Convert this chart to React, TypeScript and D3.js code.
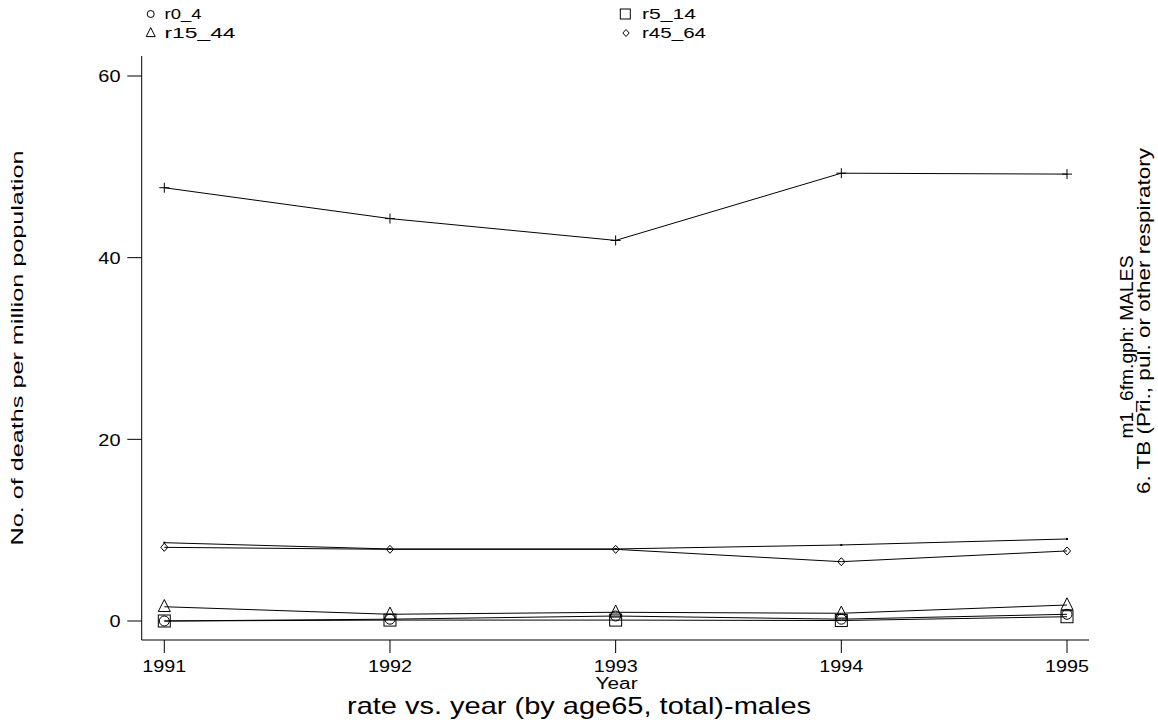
import React from "react";
import * as d3 from "d3";

const years = [1991, 1992, 1993, 1994, 1995];
const r0_4 = [0, 0.2, 0.55, 0.2, 0.74];
const r5_14 = [0, 0.1, 0.1, 0.05, 0.47];
const r15_44 = [1.57, 0.74, 0.96, 0.85, 1.76];
const r45_64 = [8.11, 7.89, 7.89, 6.53, 7.71];
const r65plus = [47.7, 44.3, 41.9, 49.3, 49.2];
const total = [8.62, 7.93, 7.93, 8.37, 9.03];
const yTicks = [0, 20, 40, 60];
const legendLabels = ["r0_4", "r5_14", "r15_44", "r45_64"];

const FONT = "'Liberation Sans', Arial, Helvetica, sans-serif";

type Marker = "circle" | "square" | "triangle" | "diamond" | "plus" | "dot";

function markerEl(kind: Marker, cx: number, cy: number, s: number, key: string) {
  const common = { fill: "none", stroke: "#000", strokeWidth: 1 };
  switch (kind) {
    case "circle":
      return <circle key={key} cx={cx} cy={cy} r={s / 2} {...common} />;
    case "square":
      return <rect key={key} x={cx - s / 2} y={cy - s / 2} width={s} height={s} {...common} />;
    case "triangle": {
      const h = s;
      return (
        <path
          key={key}
          d={`M${cx},${cy - h * 0.6}L${cx + s / 2},${cy + h * 0.4}L${cx - s / 2},${cy + h * 0.4}Z`}
          {...common}
        />
      );
    }
    case "diamond":
      return (
        <path
          key={key}
          d={`M${cx},${cy - s / 2}L${cx + s * 0.45},${cy}L${cx},${cy + s / 2}L${cx - s * 0.45},${cy}Z`}
          {...common}
        />
      );
    case "plus":
      return (
        <path key={key} d={`M${cx - s / 2},${cy}H${cx + s / 2}M${cx},${cy - s / 2}V${cy + s / 2}`} {...common} />
      );
    case "dot":
      return <rect key={key} x={cx - 1} y={cy - 1} width={2} height={2} fill="#000" />;
  }
}

export default function App() {
  const W = 1158;
  const H = 726;
  const x = d3.scaleLinear().domain([1991, 1995]).range([164.3, 1067]);
  const y = d3.scaleLinear().domain([0, 60]).range([621, 76]);
  const axisLeft = 141.7;
  const axisBottom = 640;
  const axisTop = 56;
  const axisRight = 1089;

  const line = d3
    .line<number>()
    .x((_, i) => x(years[i]))
    .y((d) => y(d));

  const series: { data: number[]; marker: Marker; size: number }[] = [
    { data: r65plus, marker: "plus", size: 10 },
    { data: total, marker: "dot", size: 2 },
    { data: r45_64, marker: "diamond", size: 8 },
    { data: r15_44, marker: "triangle", size: 12 },
    { data: r5_14, marker: "square", size: 12 },
    { data: r0_4, marker: "circle", size: 10 },
  ];

  const legend: { label: string; marker: Marker; size: number; mx: number; tx: number; my: number; ty: number; tl: number }[] = [
    { label: legendLabels[0], marker: "circle", size: 7, mx: 150.7, tx: 164.5, my: 14, ty: 19.3, tl: 37 },
    { label: legendLabels[1], marker: "square", size: 10, mx: 625.3, tx: 642, my: 14, ty: 19.3, tl: 54 },
    { label: legendLabels[2], marker: "triangle", size: 9, mx: 150.7, tx: 164.5, my: 33, ty: 38.3, tl: 71 },
    { label: legendLabels[3], marker: "diamond", size: 7, mx: 626, tx: 642, my: 33, ty: 38.3, tl: 64 },
  ];

  return (
    <svg width={W} height={H} style={{ position: "absolute", left: 0, top: 0, background: "#fff" }} fontFamily={FONT}>
      <rect x={0} y={0} width={W} height={H} fill="#fff" />

      {/* legend */}
      {legend.map((l, i) => (
        <g key={"lg" + i}>
          {markerEl(l.marker, l.mx, l.my, l.size, "lm" + i)}
          <text x={l.tx} y={l.ty} fontSize={14} textLength={l.tl} lengthAdjust="spacingAndGlyphs">
            {l.label}
          </text>
        </g>
      ))}

      {/* axes */}
      <line x1={axisLeft} x2={axisLeft} y1={axisTop} y2={axisBottom} stroke="#000" strokeWidth={1} />
      <line x1={axisLeft} x2={axisRight} y1={axisBottom} y2={axisBottom} stroke="#000" strokeWidth={1} />
      {yTicks.map((t) => (
        <g key={"yt" + t}>
          <line x1={127.3} x2={axisLeft} y1={y(t)} y2={y(t)} stroke="#000" strokeWidth={1} />
          <text
            x={120.5}
            y={y(t) + 6.2}
            fontSize={17}
            textAnchor="end"
            textLength={String(t).length * 11.1}
            lengthAdjust="spacingAndGlyphs"
          >
            {t}
          </text>
        </g>
      ))}
      {years.map((yr) => (
        <g key={"xt" + yr}>
          <line x1={x(yr)} x2={x(yr)} y1={axisBottom} y2={653} stroke="#000" strokeWidth={1} />
          <text
            x={x(yr)}
            y={671.7}
            fontSize={17}
            textAnchor="middle"
            textLength={44}
            lengthAdjust="spacingAndGlyphs"
          >
            {yr}
          </text>
        </g>
      ))}

      {/* axis titles */}
      <text x={616.6} y={688.5} fontSize={16} textAnchor="middle" textLength={42} lengthAdjust="spacingAndGlyphs">
        Year
      </text>
      <text x={347} y={714.3} fontSize={24} textLength={464} lengthAdjust="spacingAndGlyphs">
        rate vs. year (by age65, total)-males
      </text>
      <text
        transform={`translate(23,348) rotate(-90)`}
        fontSize={17}
        textAnchor="middle"
        textLength={395}
        lengthAdjust="spacingAndGlyphs"
      >
        No. of deaths per million population
      </text>
      <text
        transform={`translate(1133,347) rotate(-90)`}
        fontSize={17.5}
        textAnchor="middle"
        textLength={183}
        lengthAdjust="spacingAndGlyphs"
      >
        m1_6fm.gph: MALES
      </text>
      <text
        transform={`translate(1150,494) rotate(-90)`}
        fontSize={17.5}
        textLength={346}
        lengthAdjust="spacingAndGlyphs"
      >
        6.  TB (Pri., pul. or other respiratory
      </text>

      {/* series */}
      {series.map((s, si) => (
        <g key={"s" + si}>
          <path d={line(s.data) || ""} fill="none" stroke="#000" strokeWidth={1} />
          {s.data.map((v, i) => markerEl(s.marker, x(years[i]), y(v), s.size, `m${si}-${i}`))}
        </g>
      ))}
    </svg>
  );
}
